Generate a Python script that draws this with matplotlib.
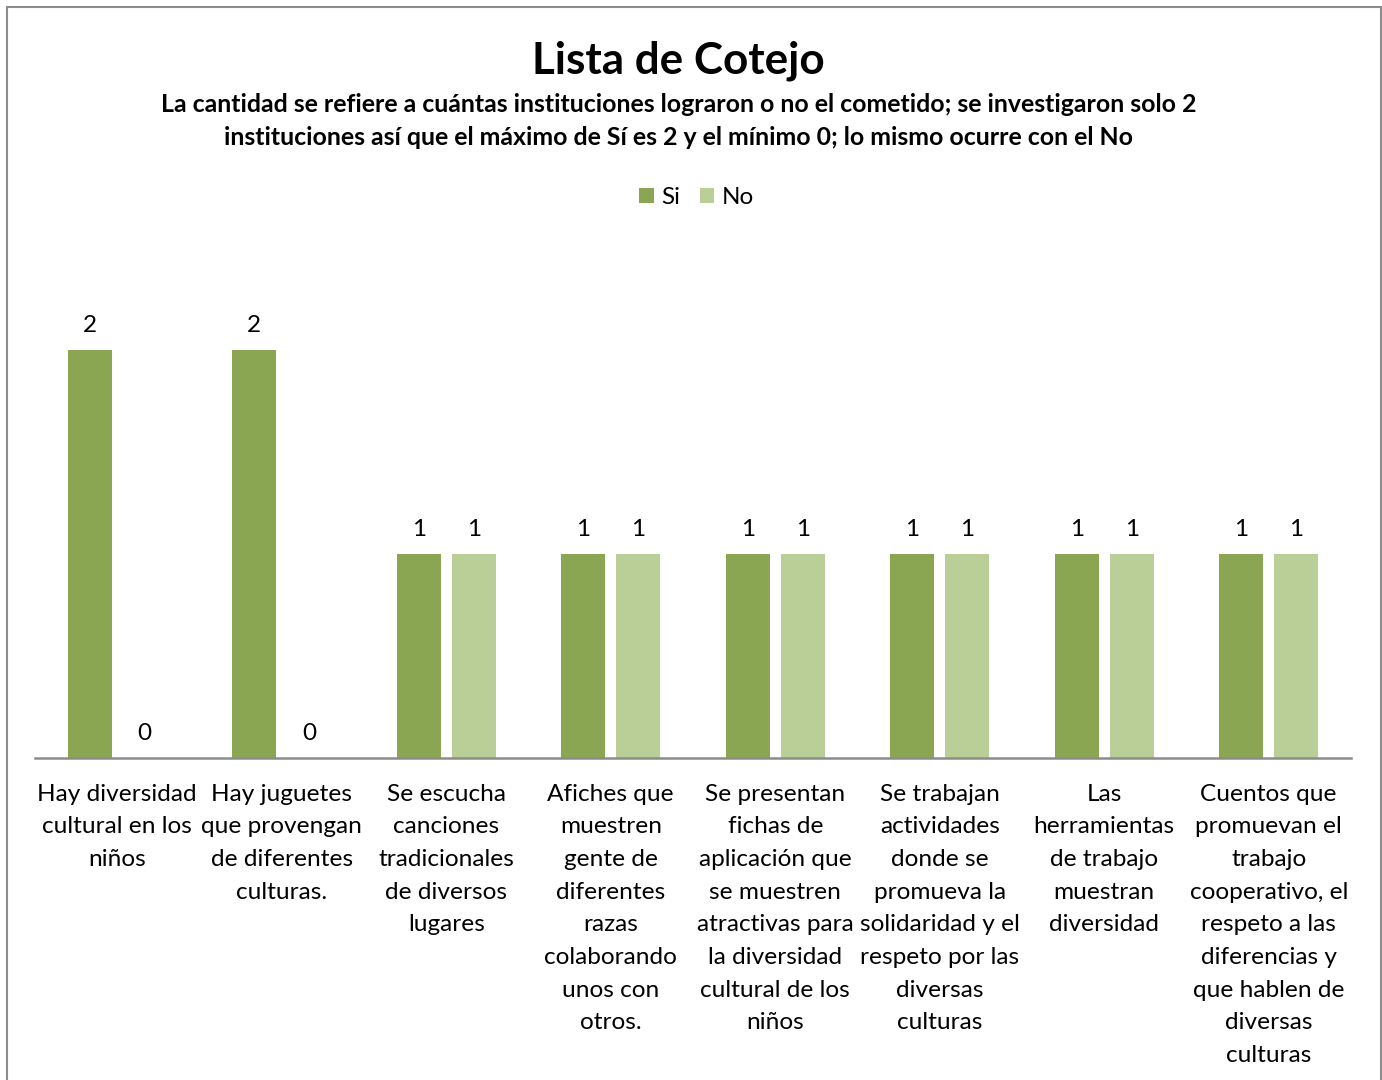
import matplotlib.pyplot as plt
from matplotlib.patches import Rectangle
import numpy as np

plt.rcParams['font.family'] = ['Lato', 'DejaVu Sans']

# checklist items (labels wrapped the way they are shown under the axis)
categorias = [
    "Hay diversidad\ncultural en los\nniños",
    "Hay juguetes\nque provengan\nde diferentes\nculturas.",
    "Se escucha\ncanciones\ntradicionales\nde diversos\nlugares",
    "Afiches que\nmuestren\ngente de\ndiferentes\nrazas\ncolaborando\nunos con\notros.",
    "Se presentan\nfichas de\naplicación que\nse muestren\natractivas para\nla diversidad\ncultural de los\nniños",
    "Se trabajan\nactividades\ndonde se\npromueva la\nsolidaridad y el\nrespeto por las\ndiversas\nculturas",
    "Las\nherramientas\nde trabajo\nmuestran\ndiversidad",
    "Cuentos que\npromuevan el\ntrabajo\ncooperativo, el\nrespeto a las\ndiferencias y\nque hablen de\ndiversas\nculturas",
]
si = [2, 2, 1, 1, 1, 1, 1, 1]
no = [0, 0, 1, 1, 1, 1, 1, 1]

color_si = '#8BA652'
color_no = '#B9CF97'

fig = plt.figure(figsize=(13.82, 10.8), dpi=100)
ax = fig.add_axes([35 / 1382, 0.2981, 1316 / 1382, 0.4723])

x = np.arange(len(categorias))
w = 0.268
off = 0.167
b1 = ax.bar(x - off, si, w, color=color_si, label='Si')
b2 = ax.bar(x + off, no, w, color=color_no, label='No')

for bars, vals in ((b1, si), (b2, no)):
    for rect, v in zip(bars, vals):
        ax.annotate(str(v), (rect.get_x() + rect.get_width() / 2, v),
                    xytext=(0, 17.8), textcoords='offset points',
                    ha='center', va='center', fontsize=17.5)

ax.set_xlim(-0.5, len(categorias) - 0.5)
ax.set_ylim(0, 2.5)
ax.set_xticks(x)
ax.set_xticklabels(categorias, fontsize=17.6, linespacing=1.685)
ax.tick_params(axis='x', length=0, pad=18.5)
ax.set_yticks([])
for s in ('left', 'right', 'top'):
    ax.spines[s].set_visible(False)
ax.spines['bottom'].set_color('#8C8C8C')
ax.spines['bottom'].set_linewidth(1.8)

fig.text(0.491, 0.944, 'Lista de Cotejo', ha='center', va='center',
         fontsize=31.7, fontweight='bold')
fig.text(0.491, 0.888,
         'La cantidad se refiere a cuántas instituciones lograron o no el cometido; se investigaron solo 2\n'
         'instituciones así que el máximo de Sí es 2 y el mínimo 0; lo mismo ocurre con el No',
         ha='center', va='center', fontsize=17.9, fontweight='bold', linespacing=1.5)

fig.legend(handles=[b1, b2], loc='center', bbox_to_anchor=(0.504, 0.817),
           ncol=2, frameon=False, fontsize=17.5, handlelength=0.6,
           handleheight=0.6, handletextpad=0.3, columnspacing=0.8)

# outer chart border
fig.patches.append(Rectangle((7 / 1382, -0.01), 1374 / 1382, 1.01 - 7 / 1080,
                             transform=fig.transFigure, fill=False,
                             edgecolor='#8C8C8C', linewidth=1.5))

fig.savefig('out.png', dpi=100)
